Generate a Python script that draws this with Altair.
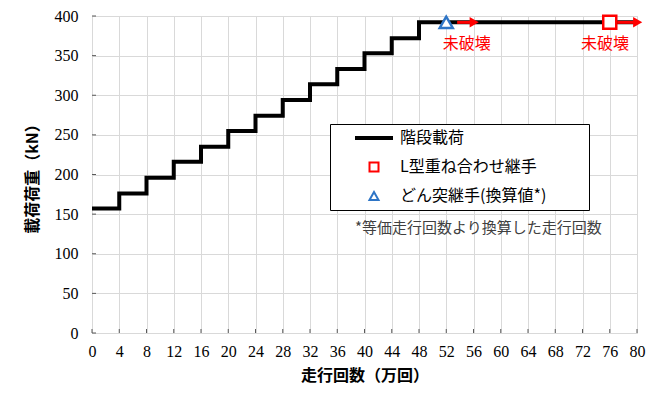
import altair as alt
import pandas as pd

# ---- data ----
step_x = [0, 4, 8, 12, 16, 20, 24, 28, 32, 36, 40, 44, 48, 80]
step_y = [157, 176, 196, 216, 235, 255, 274, 294, 314, 333, 353, 372, 392, 392]

series = ["階段載荷", "L型重ね合わせ継手", "どん突継手(換算値*)"]
series_colors = ["#000000", "#ff0000", "#2e75c6"]

pt_series = ["L型重ね合わせ継手", "どん突継手(換算値*)"]
pt_x = [76, 52]
pt_y = [392, 392]

arrow_x1 = [77.1, 53.6]
arrow_x2 = [80.1, 56.1]
arrow_y = [392, 392]

label_text = ["未破壊", "未破壊"]
label_x = [75.3, 55.0]
label_y = [365, 365]

note_text = ["*等価走行回数より換算した走行回数"]
note_x = [38.6]
note_y = [132]

x_ticks = list(range(0, 81, 4))
y_ticks = list(range(0, 401, 50))

W, H = 545, 317
JP = "Noto Sans CJK JP"
SERIF = "Liberation Serif"

xs = alt.Scale(domain=[0, 80], nice=False, zero=False)
ys = alt.Scale(domain=[0, 400], nice=False)

x_axis = alt.Axis(values=x_ticks, grid=True, gridColor="#d9d9d9", ticks=False, domain=False,
                  labelFont=SERIF, labelFontSize=16, labelColor="#000", labelFlush=False,
                  labelPadding=10, title="走行回数（万回）", titleFont=JP, titleFontSize=16,
                  titleFontWeight="bold", titleColor="#000", titlePadding=8)
y_axis = alt.Axis(values=y_ticks, grid=True, gridColor="#d9d9d9", ticks=False, domain=False,
                  labelFont=SERIF, labelFontSize=16, labelColor="#000", labelFlush=False,
                  labelPadding=14, title="載荷荷重（kN）", titleFont=JP, titleFontSize=16,
                  titleFontWeight="bold", titleColor="#000", titlePadding=14)

df_step = pd.DataFrame({"x": step_x, "y": step_y})
df_pt = pd.DataFrame({"series": pt_series, "x": pt_x, "y": pt_y})
df_arrow = pd.DataFrame({"x": arrow_x1, "x2": arrow_x2, "y": arrow_y})
df_lab = pd.DataFrame({"t": label_text, "x": label_x, "y": label_y})
df_note = pd.DataFrame({"t": note_text, "x": note_x, "y": note_y})
df_xt = pd.DataFrame({"x": x_ticks})
df_yt = pd.DataFrame({"y": y_ticks})

X = alt.X("x:Q", scale=xs, axis=x_axis)
Y = alt.Y("y:Q", scale=ys, axis=y_axis)

line = alt.Chart(df_step).mark_line(interpolate="step-after", color="#000", strokeWidth=4).encode(
    x=X, y=Y)

xt = alt.Chart(df_xt).mark_rule(color="#595959", strokeWidth=1).encode(
    x=X, y=alt.value(H), y2=alt.value(H - 4))
yt = alt.Chart(df_yt).mark_rule(color="#595959", strokeWidth=1).encode(
    y=Y, x=alt.value(0), x2=alt.value(4))

arrows = alt.Chart(df_arrow).mark_rule(color="#ff0000", strokeWidth=3).encode(
    x=X, x2="x2:Q", y=Y)
heads = alt.Chart(df_arrow).mark_point(shape="triangle-right", filled=True, color="#ff0000",
                                       size=110, opacity=1).encode(
    x=alt.X("x2:Q", scale=xs, axis=x_axis), y=Y)

legend = alt.Legend(orient="none", legendX=238, legendY=108, title=None,
                    strokeColor="#000", fillColor="#fff", padding=6,
                    symbolOffset=30, labelOffset=18, labelFont=JP, labelFontSize=16,
                    labelColor="#000", rowPadding=12, symbolStrokeWidth=2, symbolSize=81,
                    labelLimit=400,
                    labelExpr="datum.label + '\u2800\u2800\u2800'")

points = alt.Chart(df_pt).mark_point(filled=False, fill="#ffffff", strokeWidth=2.5, size=170,
                                     opacity=1).encode(
    x=X, y=Y,
    color=alt.Color("series:N", scale=alt.Scale(domain=series, range=series_colors), legend=legend),
    shape=alt.Shape("series:N", scale=alt.Scale(domain=series,
                                                range=["M-4,-0.2H4V0.2H-4Z", "square", "triangle-up"]),
                    legend=legend))

labels = alt.Chart(df_lab).mark_text(color="#ff0000", font=JP, fontSize=16).encode(
    x=X, y=Y, text="t:N")

note = alt.Chart(df_note).mark_text(color="#404040", font=JP, fontSize=15, align="left").encode(
    x=X, y=Y, text="t:N")

chart = alt.layer(line, xt, yt, arrows, points, heads, labels, note).properties(
    width=W, height=H,
    autosize=alt.AutoSizeParams(type="none"),
    padding={"left": 84, "top": 8, "right": 25, "bottom": 52},
).configure_view(stroke="#595959", strokeWidth=1.5).configure(background="#ffffff")

chart.save("out.html", embed_options={"renderer": "svg", "actions": False})
